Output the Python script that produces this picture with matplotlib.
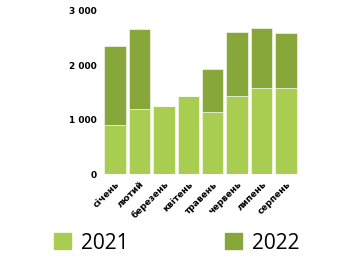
import matplotlib.pyplot as plt
from matplotlib.patches import Patch

months = ['січень', 'лютий', 'березень', 'квітень', 'травень',
          'червень', 'липень', 'серпень']
v2021 = [900, 1205, 1253, 1437, 1143, 1437, 1583, 1583]
v2022 = [1450, 1465, 0, 0, 790, 1175, 1105, 1020]
yticks = [0, 1000, 2000, 3000]
ylabels = ['0', '1 000', '2 000', '3 000']

c2021 = '#a9cd50'
c2022 = '#87a73a'

plt.rcParams['font.family'] = ['DejaVu Sans']
fig = plt.figure(figsize=(3.37, 2.67), dpi=100)
ax = fig.add_axes([0.305, 0.348, 0.58, 0.611])

x = range(len(months))
ax.bar(x, v2021, width=0.88, color=c2021, edgecolor='white', linewidth=0.4)
ax.bar(x, v2022, bottom=v2021, width=0.88, color=c2022, edgecolor='white', linewidth=0.4)

ax.set_xlim(-0.5, len(months) - 0.5)
ax.set_ylim(0, 3000)
ax.set_yticks(yticks)
ax.set_yticklabels(ylabels, fontsize=6.5, fontweight='bold')
ax.set_xticks(list(x))
ax.set_xticklabels(months, rotation=45, ha='right', rotation_mode='anchor',
                   fontsize=6.5, fontweight='bold')
ax.tick_params(length=0, pad=4)
for s in ax.spines.values():
    s.set_visible(False)

handles = [Patch(color=c2021, label='2021'), Patch(color=c2022, label='2022')]
fig.legend(handles=handles, loc='lower center', bbox_to_anchor=(0.525, -0.02),
           ncol=2, frameon=False, handlelength=0.8, handleheight=0.8,
           columnspacing=4.6, handletextpad=0.5,
           prop={'family': 'Open Sans', 'size': 15})

fig.savefig('out.png', dpi=100)
